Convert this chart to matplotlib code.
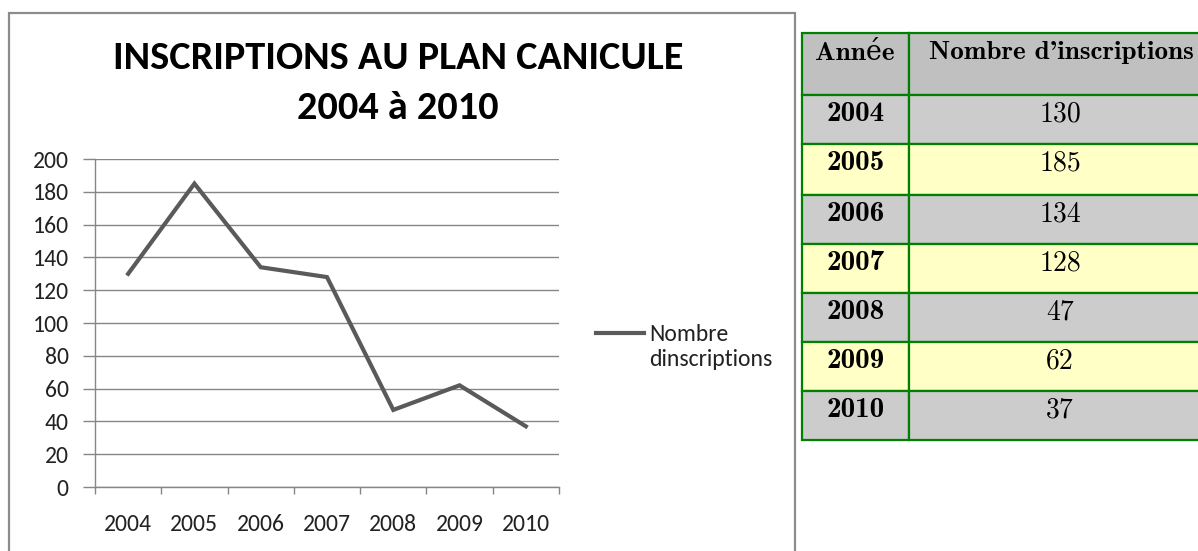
import matplotlib
matplotlib.use("Agg")
import matplotlib.pyplot as plt
from matplotlib.patches import Rectangle
from matplotlib.lines import Line2D

years = ["2004", "2005", "2006", "2007", "2008", "2009", "2010"]
inscriptions = [130, 185, 134, 128, 47, 62, 37]
series_label = "Nombre\ndinscriptions"
title = "INSCRIPTIONS AU PLAN CANICULE\n2004 à 2010"
col_headers = ["Année", "Nombre d'inscriptions"]

# Calibri look-alikes first, plain sans last
sans = ["Carlito", "Archivo Narrow", "Open Sans"]

W, H = 1198, 551
fig = plt.figure(figsize=(W / 100, H / 100), dpi=100)


def fx(px):
    return px / W


def fy(py):
    return 1 - py / H


# chart frame (bottom edge runs off the picture)
fig.add_artist(Rectangle((fx(9), fy(600)), fx(786), (600 - 13) / H,
                         transform=fig.transFigure, fill=False,
                         edgecolor="#8c8c8c", linewidth=1.6, clip_on=False))

ax = fig.add_axes([fx(95), fy(487), fx(559 - 95), (487 - 159) / H])
x = list(range(len(years)))
ax.plot(x, inscriptions, color="#5a5a5a", linewidth=3.0, solid_joinstyle="miter")
ax.set_xlim(-0.5, len(years) - 0.5)
ax.set_ylim(0, 200)
ax.set_yticks(range(0, 201, 20))
ax.yaxis.grid(True, color="#868686", linewidth=1.0)
ax.set_axisbelow(True)
for s in ["top", "right"]:
    ax.spines[s].set_visible(False)
for s in ["left", "bottom"]:
    ax.spines[s].set_color("#868686")
    ax.spines[s].set_linewidth(1.0)

tick_font = dict(family=sans, size=17)
ax.set_xticks(x)
ax.set_xticklabels(years, **tick_font)
ax.set_xticks([i - 0.5 for i in range(len(years) + 1)], minor=True)
ax.tick_params(axis="x", which="major", length=0, pad=19.5, labelcolor="#222222")
ax.tick_params(axis="x", which="minor", length=5, color="#868686", width=1.0)
ax.set_yticklabels([str(v) for v in range(0, 201, 20)], **tick_font)
ax.tick_params(axis="y", length=9, color="#868686", width=1.0, pad=10,
               labelcolor="#222222")

fig.text(fx(398), fy(83), title, ha="center", va="center",
         family=sans, weight="bold", size=29, linespacing=1.6)

# legend
fig.add_artist(Line2D([fx(596), fx(644)], [fy(333), fy(333)],
                      transform=fig.transFigure, color="#5a5a5a", linewidth=3.0))
fig.text(fx(649), fy(347), series_label, ha="left", va="center",
         family=sans, size=17, linespacing=1.2, color="#222222")

# table
tab = fig.add_axes([fx(802), fy(440), fx(1198 - 802), (440 - 33) / H])
tab.set_xlim(802, 1198)
tab.set_ylim(440, 33)
tab.axis("off")
row_edges = [33, 95, 144, 195, 244, 293, 342, 391, 440]
col_x = [802, 909, 1260]
green = "#008000"
header_fill = "#c0c0c0"
fills = ["#cccccc", "#ffffc6"]
bold_serif = ["cmb10", "DejaVu Serif"]

for c in range(2):
    tab.add_patch(Rectangle((col_x[c], row_edges[0]), col_x[c + 1] - col_x[c],
                            row_edges[1] - row_edges[0], facecolor=header_fill,
                            edgecolor=green, linewidth=1.6, clip_on=False))
tab.text(855, 53, col_headers[0], ha="center", va="center",
         family=bold_serif, size=19.5)
tab.text(1061, 53, col_headers[1], ha="center", va="center",
         family=bold_serif, size=19.5)

for i, (yr, val) in enumerate(zip(years, inscriptions)):
    top = row_edges[i + 1]
    h = row_edges[i + 2] - top
    for c in range(2):
        tab.add_patch(Rectangle((col_x[c], top), col_x[c + 1] - col_x[c], h,
                                facecolor=fills[i % 2], edgecolor=green,
                                linewidth=1.6, clip_on=False))
    tab.text(856, top + 19, yr, ha="center", va="center", family=bold_serif,
             size=21)
    tab.text(1060, top + 19, str(val), ha="center", va="center", family="cmr10",
             size=20)

fig.savefig("out.png", dpi=100)
